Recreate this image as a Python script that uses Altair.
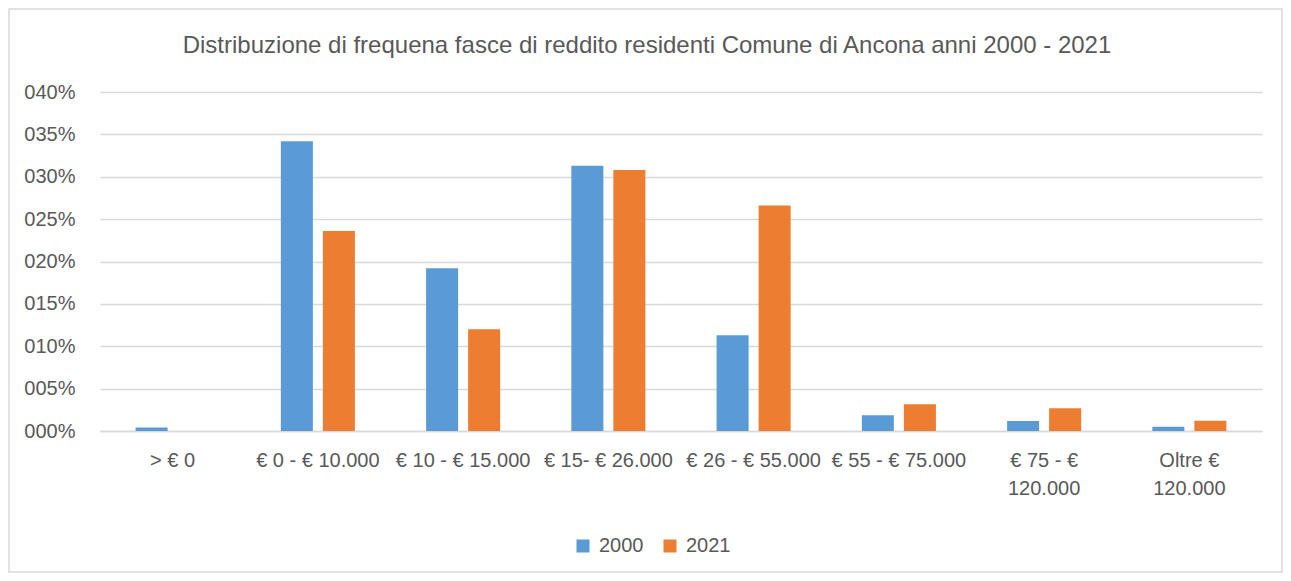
import altair as alt
import pandas as pd

categories = ["> € 0", "€ 0 - € 10.000", "€ 10 - € 15.000", "€ 15- € 26.000",
              "€ 26 - € 55.000", "€ 55 - € 75.000", "€ 75 - € 120.000", "Oltre € 120.000"]
values_2000 = [0.004, 0.342, 0.192, 0.313, 0.113, 0.0185, 0.0118, 0.005]
values_2021 = [0.0, 0.236, 0.120, 0.308, 0.266, 0.0315, 0.0268, 0.012]
years = ["2000", "2021"]
title_text = "Distribuzione di frequena fasce di reddito residenti Comune di Ancona anni 2000 - 2021"

rows = []
for c, a, b in zip(categories, values_2000, values_2021):
    rows.append({"cat": c, "year": years[0], "v": a})
    rows.append({"cat": c, "year": years[1], "v": b})
df = pd.DataFrame(rows)

FONT = "Liberation Sans"
TXT = "#595959"
GRID = "#d9d9d9"

label_expr = ("datum.label == '€ 75 - € 120.000' ? ['€ 75 - €', '120.000'] : "
              "datum.label == 'Oltre € 120.000' ? ['Oltre €', '120.000'] : datum.label")

bars = alt.Chart(df).mark_bar().encode(
    x=alt.X("cat:N", sort=categories, title=None,
            scale=alt.Scale(paddingInner=0.49, paddingOuter=0.245),
            axis=alt.Axis(labelAngle=0, labelExpr=label_expr, labelFontSize=20,
                          labelColor=TXT, labelFont=FONT, labelPadding=19,
                          labelLineHeight=28, ticks=False, domainColor=GRID,
                          domainWidth=1.5, labelOverlap=False, labelLimit=0)),
    xOffset=alt.XOffset("year:N", scale=alt.Scale(paddingInner=0.238, paddingOuter=0)),
    y=alt.Y("v:Q", title=None,
            scale=alt.Scale(domain=[0, 0.4], nice=False),
            axis=alt.Axis(format="04.0%", values=[0, 0.05, 0.1, 0.15, 0.2, 0.25, 0.3, 0.35, 0.4],
                          labelFontSize=20, labelColor=TXT, labelFont=FONT,
                          labelPadding=25, ticks=False, domain=False,
                          gridColor=GRID, gridWidth=1.5)),
    color=alt.Color("year:N", title=None,
                    scale=alt.Scale(domain=years, range=["#5B9BD5", "#ED7D31"]),
                    legend=alt.Legend(orient="none", legendX=473, legendY=444,
                                      direction="horizontal", symbolType="square",
                                      symbolSize=169, symbolStrokeWidth=0,
                                      labelFontSize=20, labelColor=TXT, labelFont=FONT,
                                      labelOffset=6, columnPadding=16)),
)

one = pd.DataFrame({"t": [title_text]})

frame = alt.Chart(one).mark_rect(
    fill=None, stroke=GRID, strokeWidth=1.5, clip=False
).encode(x=alt.value(-91), x2=alt.value(1182), y=alt.value(-83), y2=alt.value(480))

title = alt.Chart(one).mark_text(
    font=FONT, fontSize=24, color=TXT, align="center", baseline="middle"
).encode(text="t:N", x=alt.value(547), y=alt.value(-46))

chart = alt.layer(frame, bars, title).properties(
    width=1162, height=339,
    autosize=alt.AutoSizeParams(type="none"),
    padding={"left": 92, "top": 84, "right": 21, "bottom": 142},
).configure_view(stroke=None)

chart.save("out.html", embed_options={"renderer": "svg", "actions": False})
